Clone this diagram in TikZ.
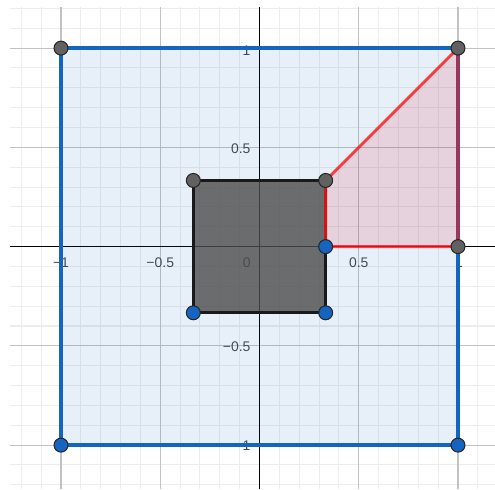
\documentclass[tikz,border=0pt]{standalone}
\usepackage{fontspec}
\setmainfont{Liberation Sans}
\definecolor{ggblue}{RGB}{21,101,192}
\definecolor{ggred}{RGB}{255,20,20}
\definecolor{ggpink}{RGB}{220,30,50}
\definecolor{ggdark}{RGB}{97,97,97}
\begin{document}
\begin{tikzpicture}[
		scale=4,
		gridminor/.style={line width=0.6pt,black!7},
		gridmajor/.style={line width=0.6pt,black!24},
		axisline/.style={line width=0.7pt,black},
		ticklabel/.style={font=\fontsize{8}{9}\selectfont,text=black!72,inner sep=1pt},
		bigsq/.style={line width=1.9pt,ggblue,fill=ggblue,fill opacity=0.1},
		innersq/.style={line width=1.8pt,black!90,fill=black!70,fill opacity=0.8},
		redline/.style={line width=1.7pt,ggred,draw opacity=0.8,line join=round},
		pt/.style={circle,inner sep=0pt,minimum size=8pt,draw=black!85,line width=0.6pt},
		ptgray/.style={pt,fill=ggdark},
		ptblue/.style={pt,fill=ggblue},
	]

	\useasboundingbox (-1.3073,-1.2222) rectangle (1.1864,1.2424);

	% ---------- grid ----------
	\foreach \k in {-12,...,11}
		\draw[gridminor] (\k/10,-1.2222) -- (\k/10,1.207);
	\foreach \k in {-12,...,12}
		\draw[gridminor] (-1.257,\k/10) -- (1.1864,\k/10);
	\foreach \v in {-1,-0.5,0.5,1} {
		\draw[gridmajor] (\v,-1.2222) -- (\v,1.207);
		\draw[gridmajor] (-1.257,\v) -- (1.1864,\v);
	}

	% ---------- axes and labels ----------
	\node[ticklabel] (xm1) at (-1,-0.081) {−1};
	\node[ticklabel] (xm05) at (-0.5,-0.081) {−0.5};
	\node[ticklabel] (xo) at (-0.064,-0.081) {0};
	\node[ticklabel] (xp05) at (0.5,-0.081) {0.5};
	\node[ticklabel] (xp1) at (1.005,-0.081) {1};
	\node[ticklabel,anchor=east] (yp1) at (-0.035,0.985) {1};
	\node[ticklabel,anchor=east] (yp05) at (-0.035,0.495) {0.5};
	\node[ticklabel,anchor=east] (ym05) at (-0.035,-0.505) {−0.5};
	\node[ticklabel,anchor=east] (ym1) at (-0.035,-1.005) {−1};

	\coordinate (xl) at (-1.257,0);
	\coordinate (xr) at (1.1864,0);
	\coordinate (yb) at (0,-1.2222);
	\coordinate (yt) at (0,1.207);
	\draw[axisline] (xl) -- (xr);
	\draw[axisline] (yb) -- (yt);

	% ---------- vertices ----------
	\coordinate (A) at (-1,-1);
	\coordinate (B) at (1,-1);
	\coordinate (C) at (1,1);
	\coordinate (D) at (-1,1);
	\coordinate (E) at (-1/3,-1/3);
	\coordinate (F) at (1/3,-1/3);
	\coordinate (G) at (1/3,1/3);
	\coordinate (H) at (-1/3,1/3);
	\coordinate (I) at (1/3,0);
	\coordinate (J) at (1,0);

	% ---------- polygons ----------
	\filldraw[bigsq] (A) -- (B) -- (C) -- (D) -- cycle;
	\fill[ggpink,fill opacity=0.14] (I) -- (J) -- (C) -- (G) -- cycle;
	\filldraw[innersq] (E) -- (F) -- (G) -- (H) -- cycle;
	\draw[redline] (I) -- (J) -- (C) -- (G) -- cycle;

	% ---------- points ----------
	\node[ptblue] (pA) at (A) {};
	\node[ptblue] (pB) at (B) {};
	\node[ptgray] (pC) at (C) {};
	\node[ptgray] (pD) at (D) {};
	\node[ptblue] (pE) at (E) {};
	\node[ptblue] (pF) at (F) {};
	\node[ptgray] (pG) at (G) {};
	\node[ptgray] (pH) at (H) {};
	\node[ptblue] (pI) at (I) {};
	\node[ptgray] (pJ) at (J) {};

\end{tikzpicture}
\end{document}
